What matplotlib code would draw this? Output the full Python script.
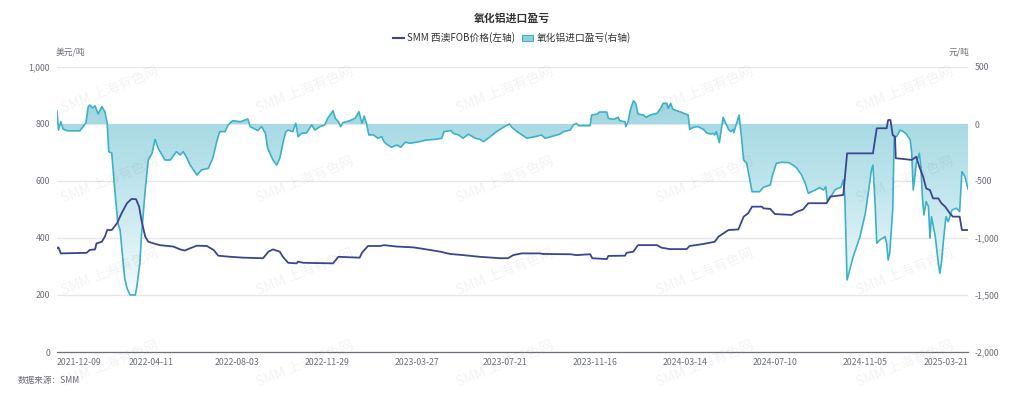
import matplotlib
matplotlib.use("Agg")
import matplotlib.pyplot as plt
import matplotlib.dates as mdates
import numpy as np
import pandas as pd
from matplotlib.path import Path
from matplotlib.colors import LinearSegmentedColormap
from matplotlib.lines import Line2D
from matplotlib.patches import Patch

plt.rcParams['font.family'] = ['Noto Sans CJK SC', 'DejaVu Sans']

title = "氧化铝进口盈亏"
fob_label = "SMM 西澳FOB价格(左轴)"
pl_label = "氧化铝进口盈亏(右轴)"

fob_dates = ["2021-12-09","2021-12-11","2021-12-14","2022-01-17","2022-01-21","2022-01-28","2022-01-30",
    "2022-02-06","2022-02-10","2022-02-13","2022-02-19","2022-02-26","2022-03-04","2022-03-11","2022-03-17",
    "2022-03-23","2022-03-27","2022-03-30","2022-04-04","2022-04-08","2022-04-15","2022-04-23","2022-04-30",
    "2022-05-11","2022-05-20","2022-05-26","2022-06-02","2022-06-11","2022-06-24","2022-07-03","2022-07-09",
    "2022-07-25","2022-08-11","2022-09-06","2022-09-13","2022-09-19","2022-09-28","2022-10-02","2022-10-09",
    "2022-10-20","2022-10-22","2022-10-29","2022-12-07","2022-12-14","2023-01-11","2023-01-14","2023-01-22",
    "2023-02-07","2023-02-12","2023-03-01","2023-03-23","2023-04-09","2023-04-27","2023-05-10","2023-05-27",
    "2023-06-18","2023-07-15","2023-07-25","2023-08-01","2023-08-12","2023-09-05","2023-09-09","2023-10-15",
    "2023-10-23","2023-11-10","2023-11-13","2023-12-02","2023-12-04","2023-12-26","2023-12-28","2024-01-06",
    "2024-01-12","2024-02-06","2024-02-12","2024-02-23","2024-03-16","2024-03-20","2024-04-07","2024-04-22",
    "2024-04-27","2024-05-10","2024-05-23","2024-05-30","2024-06-05","2024-06-10","2024-06-23","2024-06-25",
    "2024-07-04","2024-07-10","2024-08-01","2024-08-08","2024-08-16","2024-08-23","2024-09-16","2024-09-21",
    "2024-10-08","2024-10-13","2024-11-16","2024-11-21","2024-12-04","2024-12-06","2024-12-09","2024-12-12",
    "2024-12-15","2024-12-16","2025-01-06","2025-01-12","2025-01-16","2025-01-21","2025-01-25","2025-01-30",
    "2025-02-03","2025-02-10","2025-02-14","2025-02-19","2025-02-25","2025-03-01","2025-03-10","2025-03-13",
    "2025-03-21"]
fob_values = [364,367,346,348,358,360,381,
    387,405,428,428,452,487,522,537,
    536,510,463,405,387,381,375,373,
    370,360,356,364,373,372,358,338,
    334,331,329,352,360,352,334,313,
    311,317,313,311,334,331,348,372,
    372,375,370,367,360,352,344,340,
    334,329,329,340,346,346,344,343,
    340,343,329,326,337,338,348,352,
    375,375,366,361,361,372,379,387,
    405,428,430,475,487,510,510,504,
    502,484,481,492,500,522,522,545,
    551,697,697,785,785,814,814,761,
    756,680,674,685,650,615,574,568,
    539,539,522,510,487,475,475,428,
    428]

pl_dates = ["2021-12-09","2021-12-11","2021-12-14","2021-12-17","2021-12-23","2022-01-08","2022-01-12",
    "2022-01-16","2022-01-19","2022-01-21","2022-01-25","2022-01-28","2022-02-01","2022-02-06","2022-02-10",
    "2022-02-13","2022-02-15","2022-02-19","2022-02-23","2022-02-27","2022-03-02","2022-03-04","2022-03-08",
    "2022-03-11","2022-03-15","2022-03-22","2022-03-24","2022-03-28","2022-03-30","2022-04-04","2022-04-08",
    "2022-04-13","2022-04-17","2022-04-21","2022-04-30","2022-05-07","2022-05-15","2022-05-20","2022-05-24",
    "2022-05-29","2022-06-02","2022-06-11","2022-06-17","2022-06-26","2022-07-02","2022-07-07","2022-07-11",
    "2022-07-18","2022-07-22","2022-07-28","2022-08-07","2022-08-17","2022-08-20","2022-08-30","2022-09-04",
    "2022-09-09","2022-09-12","2022-09-19","2022-09-24","2022-09-28","2022-10-03","2022-10-06","2022-10-09",
    "2022-10-15","2022-10-19","2022-10-22","2022-10-27","2022-11-02","2022-11-09","2022-11-13","2022-11-20",
    "2022-11-26","2022-11-30","2022-12-07","2022-12-10","2022-12-14","2022-12-17","2022-12-20","2022-12-29",
    "2023-01-05","2023-01-10","2023-01-14","2023-01-17","2023-01-20","2023-01-23","2023-01-29","2023-02-04",
    "2023-02-09","2023-02-12","2023-02-15","2023-02-22","2023-03-01","2023-03-06","2023-03-12","2023-03-18",
    "2023-03-31","2023-04-09","2023-04-22","2023-04-29","2023-05-02","2023-05-11","2023-05-14","2023-05-21",
    "2023-05-27","2023-06-03","2023-06-12","2023-06-18","2023-06-23","2023-06-29","2023-07-10","2023-07-19",
    "2023-07-27","2023-07-30","2023-08-06","2023-08-19","2023-08-30","2023-09-07","2023-09-12","2023-09-23",
    "2023-10-01","2023-10-06","2023-10-15","2023-10-19","2023-10-23","2023-10-26","2023-11-10","2023-11-12",
    "2023-11-20","2023-11-22","2023-12-02","2023-12-04","2023-12-11","2023-12-17","2023-12-19","2023-12-26",
    "2023-12-27","2023-12-30","2024-01-02","2024-01-06","2024-01-09","2024-01-12","2024-01-19","2024-01-23",
    "2024-01-28","2024-02-06","2024-02-11","2024-02-14","2024-02-19","2024-02-21","2024-02-24","2024-02-27",
    "2024-03-07","2024-03-18","2024-03-20","2024-03-25","2024-03-31","2024-04-07","2024-04-11","2024-04-16",
    "2024-04-20","2024-04-22","2024-04-24","2024-04-28","2024-05-03","2024-05-10","2024-05-13","2024-05-16",
    "2024-05-17","2024-05-24","2024-05-27","2024-05-30","2024-06-03","2024-06-10","2024-06-20","2024-06-25",
    "2024-07-04","2024-07-07","2024-07-12","2024-07-19","2024-07-28","2024-08-03","2024-08-08","2024-08-14",
    "2024-08-19","2024-08-23","2024-09-01","2024-09-07","2024-09-12","2024-09-15","2024-09-17","2024-09-23",
    "2024-09-27","2024-10-01","2024-10-05","2024-10-08","2024-10-10","2024-10-13","2024-10-21","2024-10-30",
    "2024-11-06","2024-11-11","2024-11-14","2024-11-16","2024-11-19","2024-11-21","2024-11-25","2024-12-02",
    "2024-12-04","2024-12-06","2024-12-08","2024-12-12","2024-12-14","2024-12-17","2024-12-22","2024-12-26",
    "2024-12-30","2025-01-04","2025-01-06","2025-01-08","2025-01-12","2025-01-16","2025-01-18","2025-01-20",
    "2025-01-22","2025-01-25","2025-01-28","2025-01-30","2025-02-01","2025-02-06","2025-02-10","2025-02-12",
    "2025-02-14","2025-02-17","2025-02-20","2025-02-23","2025-02-28","2025-03-06","2025-03-10","2025-03-13",
    "2025-03-17","2025-03-21"]
pl_values = [114,-53,20,-45,-60,-60,-26,
    9,150,167,140,160,88,152,108,
    9,-243,-255,-579,-868,-930,-1076,-1351,
    -1438,-1500,-1500,-1427,-1219,-988,-579,-316,
    -257,-134,-213,-316,-316,-243,-272,-243,
    -301,-360,-447,-403,-389,-298,-155,-67,
    -67,-9,29,20,44,-23,-58,-23,
    -80,-213,-316,-360,-301,-140,-67,-53,
    -67,6,-111,-80,-80,-9,-53,-23,
    -9,50,117,50,20,-23,12,29,
    50,108,6,70,6,-96,-96,-125,
    -111,-155,-175,-204,-184,-204,-160,-169,
    -155,-140,-134,-125,-67,-58,-82,-96,
    -125,-90,-125,-134,-155,-125,-67,-29,
    0,-29,-67,-125,-111,-96,-125,-105,
    -90,-67,-53,-9,6,-15,-15,79,
    88,105,105,50,41,59,29,20,
    -23,20,123,204,181,88,79,59,
    79,94,138,181,181,138,181,129,
    108,79,-47,-29,-23,-47,-76,-88,
    -82,-96,-67,-164,59,-47,-67,-47,
    -76,79,-111,-316,-345,-594,-594,-555,
    -535,-447,-345,-336,-339,-360,-389,-447,
    -520,-608,-579,-558,-579,-550,-681,-623,
    -579,-564,-555,-491,-637,-1368,-1164,-988,
    -783,-550,-403,-360,-725,-1046,-1017,-988,
    -1046,-1193,-1134,-754,-111,-111,-53,-67,
    -88,-140,-257,-579,-345,-257,-374,-637,
    -798,-681,-725,-1002,-813,-988,-1222,-1310,
    -1222,-1002,-813,-857,-754,-739,-769,-418,
    -462,-570]

tick_dates = ["2021-12-09","2022-04-11","2022-08-03","2022-11-29","2023-03-27","2023-07-21",
              "2023-11-16","2024-03-14","2024-07-10","2024-11-05","2025-03-21"]
left_ticks = [0, 200, 400, 600, 800, 1000]
right_ticks = [-2000, -1500, -1000, -500, 0, 500]

NAVY = "#3b4594"
CYAN = "#3cb2c9"
GRAY = "#6e7079"

W, H = 1024, 399
fig = plt.figure(figsize=(W/100, H/100), dpi=100)
L, R, T, B = 57, 968, 67, 352
ax = fig.add_axes([L/W, 1-B/H, (R-L)/W, (B-T)/H])
ax2 = ax.twinx()
ax.set_zorder(ax2.get_zorder() + 1)
ax.patch.set_visible(False)

xf = mdates.date2num(pd.to_datetime(fob_dates))
xp = mdates.date2num(pd.to_datetime(pl_dates))
xt = mdates.date2num(pd.to_datetime(tick_dates))
x0, x1 = xt[0], xt[-1]

# gradient fill between profit line and zero
coll = ax2.fill_between(xp, pl_values, 0, facecolor='none', edgecolor='none')
clip = Path.make_compound_path(*coll.get_paths())
cmap = LinearSegmentedColormap.from_list("g", ["#f6fbfc", "#c4e7ee", "#9fd5e0"])
grad = np.linspace(0, 1, 256).reshape(-1, 1)
im = ax2.imshow(grad, extent=[x0, x1, -1520, 220], origin='lower', aspect='auto',
                cmap=cmap, zorder=1, interpolation='bilinear')
im.set_clip_path(clip, ax2.transData)
ax2.plot(xp, pl_values, color=CYAN, lw=1.2, zorder=3)
ax.plot(xf, fob_values, color=NAVY, lw=1.3, zorder=4)

ax.set_xlim(x0, x1)
ax2.set_xlim(x0, x1)
ax.set_ylim(0, 1000)
ax2.set_ylim(-2000, 500)

ax2.set_yticks(right_ticks)
ax2.set_yticklabels([f"{v:,}" for v in right_ticks])
ax.set_yticks(left_ticks)
ax.set_yticklabels([f"{v:,}" for v in left_ticks])
ax2.yaxis.grid(True, color="#e6e6e6", lw=0.9)
ax2.set_axisbelow(True)

ax.set_xticks(xt)
ax.set_xticklabels(tick_dates)
labs = ax.get_xticklabels()
labs[0].set_ha('left')
labs[-1].set_ha('right')

for a in (ax, ax2):
    for s in a.spines.values():
        s.set_visible(False)
    a.tick_params(length=0, labelsize=6.3, labelcolor=GRAY)
ax.spines['bottom'].set_visible(True)
ax.spines['bottom'].set_color("#6e7079")
ax.spines['bottom'].set_linewidth(0.9)
ax.tick_params(axis='y', pad=5)
ax2.tick_params(axis='y', pad=5)
ax.tick_params(axis='x', pad=4)

fig.text(0.5, 1-18/H, title, ha='center', va='center', fontsize=7.8,
         fontweight='bold', color="#333333")
fig.legend(handles=[Line2D([0], [0], color=NAVY, lw=1.5),
                    Patch(facecolor="#8fd0dd", edgecolor=CYAN, lw=0.8)],
           labels=[fob_label, pl_label], loc='center', bbox_to_anchor=(0.5, 1-38/H),
           ncol=2, frameon=False, fontsize=7, handlelength=1.1, handleheight=0.6,
           columnspacing=0.7, handletextpad=0.4, labelcolor="#333333")
fig.text(70/W, 1-52/H, "美元/吨", ha='center', va='center', fontsize=6.3, color=GRAY)
fig.text(959/W, 1-52/H, "元/吨", ha='center', va='center', fontsize=6.3, color=GRAY)
fig.text(18/W, 1-381/H, "数据来源：SMM", ha='left', va='center', fontsize=6.2, color=GRAY)

for cy in (90, 180, 272, 364):
    for cx in (110, 305, 505, 705, 905):
        fig.text(cx/W, 1-cy/H, "SMM 上海有色网", ha='center', va='center', fontsize=10,
                 rotation=22, color="#000000", alpha=0.05, zorder=10)

fig.savefig("out.png", dpi=100, facecolor='white')
